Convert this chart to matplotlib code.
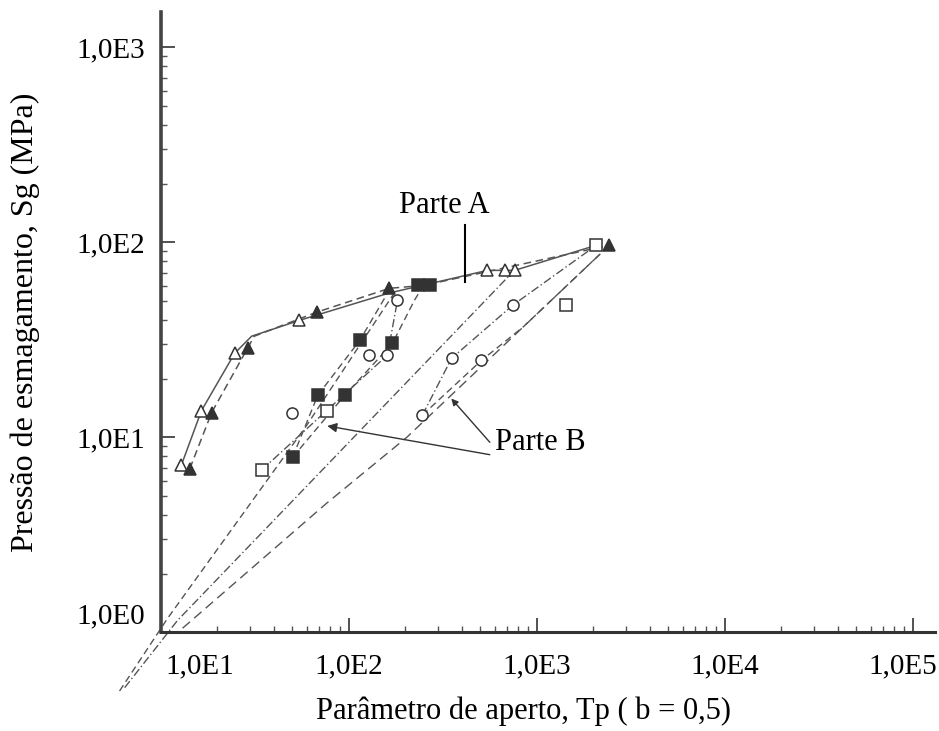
import matplotlib
matplotlib.use('Agg')
import matplotlib.pyplot as plt
import matplotlib.transforms as mtransforms
from matplotlib.ticker import LogLocator, NullFormatter

plt.rcParams['font.family'] = ['Liberation Serif', 'DejaVu Serif']

# ---- Parte A (upper curves) ----
tri_open_x = [12.9, 16.5, 24.8, 54.8, 548, 676, 764]
tri_open_y = [7.2, 13.7, 27.0, 39.8, 71.8, 71.8, 71.8]
tri_fill_x = [14.3, 18.7, 29.0, 67.6, 165, 2440]
tri_fill_y = [6.9, 13.4, 28.6, 43.8, 58.1, 96.6]
sq_fill_a_x = [233, 270]
sq_fill_a_y = [60.1, 60.1]

line_a1_x = [12.9, 16.5, 24.8, 30.5, 54.8, 165, 548, 764, 2080]
line_a1_y = [7.2, 13.7, 27.0, 33.0, 39.8, 55.0, 71.8, 71.8, 96.6]
line_a2_x = [14.3, 18.7, 29.0, 31.5, 67.6, 165, 250, 2440]
line_a2_y = [6.9, 13.4, 28.6, 33.0, 43.8, 58.1, 60.1, 96.6]

# ---- Parte B ----
sq_open_x = [34.5, 76.4, 1426, 2080]
sq_open_y = [6.8, 13.7, 47.5, 96.6]
sq_fill_x = [50.4, 68.5, 95.3, 114.7, 171]
sq_fill_y = [7.9, 16.4, 16.4, 31.4, 30.3]
circ_x = [49.8, 129, 161, 182, 247, 353, 509, 745]
circ_y = [13.4, 26.4, 26.4, 50.4, 13.0, 25.4, 24.8, 47.5]

line_b1_x = [34.5, 76.4, 161, 182]
line_b1_y = [6.8, 13.7, 26.4, 50.4]
line_b2_x = [50.4, 68.5, 114.7, 165]
line_b2_y = [7.9, 16.4, 31.4, 57.0]
line_b3_x = [50.4, 95.3, 171, 224, 250]
line_b3_y = [7.9, 16.4, 30.3, 50.4, 60.0]
line_b4_x = [247, 353, 745, 2080]
line_b4_y = [13.0, 25.4, 47.5, 96.6]
line_b5_x = [247, 509, 843, 2440]
line_b5_y = [13.0, 24.8, 36.6, 96.6]

# straight fits running to the origin
fit1_x = [6.05, 10.9, 59.8, 176]
fit1_y = [0.50, 1.18, 11.5, 55.4]
fit2_x = [6.44, 12.3, 718]
fit2_y = [0.52, 1.15, 67.7]
fit3_x = [13.1, 76.4, 204, 2440]
fit3_y = [1.05, 4.59, 10.0, 96.6]

xticks = [1e1, 1e2, 1e3, 1e4, 1e5]
xlabels = ['1,0E1', '1,0E2', '1,0E3', '1,0E4', '1,0E5']
yticks = [1e0, 1e1, 1e2, 1e3]
ylabels = ['1,0E0', '1,0E1', '1,0E2', '1,0E3']

fig = plt.figure(figsize=(9.39, 7.31), dpi=100)
ax = fig.add_axes([0.171, 0.135, 0.825, 0.848])
ax.set_xscale('log')
ax.set_yscale('log')
ax.set_xlim(10, 1.32e5)
ax.set_ylim(1, 1510)

lc = '#555555'
dash = (0, (5, 3))
dashdot = (0, (6, 2, 1, 2))

ax.plot(line_a1_x, line_a1_y, color=lc, lw=1.1, ls='-')
ax.plot(line_a2_x, line_a2_y, color=lc, lw=1.1, ls=dash)
ax.plot(line_b1_x, line_b1_y, color=lc, lw=1.0, ls=dashdot)
ax.plot(line_b2_x, line_b2_y, color=lc, lw=1.0, ls=dash)
ax.plot(line_b3_x, line_b3_y, color=lc, lw=1.0, ls=dash)
ax.plot(line_b4_x, line_b4_y, color=lc, lw=1.0, ls=dashdot)
ax.plot(line_b5_x, line_b5_y, color=lc, lw=1.0, ls=dash)
ax.plot(fit1_x, fit1_y, color=lc, lw=1.0, ls=dash, clip_on=False)
ax.plot(fit2_x, fit2_y, color=lc, lw=1.0, ls=dashdot, clip_on=False)
ax.plot(fit3_x, fit3_y, color=lc, lw=1.0, ls=(0, (7, 4)), clip_on=False)

mk = dict(ls='none', ms=8, mec='#333333', mew=1.1)
ax.plot(tri_open_x, tri_open_y, marker='^', mfc='white', **mk)
ax.plot(tri_fill_x, tri_fill_y, marker='^', mfc='#333333', **mk)
ax.plot(sq_fill_a_x, sq_fill_a_y, marker='s', mfc='#333333', **mk)
ax.plot(sq_open_x, sq_open_y, marker='s', mfc='white', **mk)
ax.plot(sq_fill_x, sq_fill_y, marker='s', mfc='#333333', **mk)
ax.plot(circ_x, circ_y, marker='o', mfc='white', **mk)

# annotations
ax.text(324, 155, 'Parte A', fontsize=22, ha='center', va='center')
ax.plot([414, 414], [122, 62.5], color='black', lw=1.5)
ax.text(1050, 9.4, 'Parte B', fontsize=22, ha='center', va='center')
ax.annotate('', xy=(344, 16.2), xytext=(577, 9.2),
            arrowprops=dict(arrowstyle='-|>', color='#333333', lw=1.0,
                            mutation_scale=10))
ax.annotate('', xy=(74.5, 11.5), xytext=(583, 8.1),
            arrowprops=dict(arrowstyle='-|>', color='#333333', lw=1.0,
                            mutation_scale=14))

# axes styling
for s in ['top', 'right']:
    ax.spines[s].set_visible(False)
ax.spines['left'].set_linewidth(2.6)
ax.spines['left'].set_color('#444444')
ax.spines['bottom'].set_linewidth(2.2)
ax.spines['bottom'].set_color('#333333')

ax.set_xticks(xticks)
ax.set_xticklabels(xlabels)
ax.set_yticks(yticks)
ax.set_yticklabels(ylabels)
ax.xaxis.set_minor_locator(LogLocator(base=10, subs=range(2, 10), numticks=20))
ax.yaxis.set_minor_locator(LogLocator(base=10, subs=range(2, 10), numticks=20))
ax.xaxis.set_minor_formatter(NullFormatter())
ax.yaxis.set_minor_formatter(NullFormatter())
ax.tick_params(which='major', direction='in', length=10, width=1.2,
               labelsize=21, color='#333333')
ax.tick_params(which='minor', direction='in', length=4.5, width=1.0,
               color='#555555')
ax.tick_params(axis='x', which='major', pad=15)
ax.tick_params(axis='y', which='major', pad=11)

# shift the corner labels like in the original
def shift(label, dx, dy):
    label.set_transform(label.get_transform() +
                        mtransforms.ScaledTranslation(dx, dy, fig.dpi_scale_trans))

shift(ax.get_xticklabels()[0], 0.39, 0)
shift(ax.get_xticklabels()[-1], -0.10, 0)
shift(ax.get_yticklabels()[0], 0, 0.19)

ax.set_xlabel('Parâmetro de aperto, Tp ( b = 0,5)', fontsize=22)
ax.xaxis.set_label_coords(0.468, -0.103)
ax.set_ylabel('Pressão de esmagamento, Sg (MPa)', fontsize=23, labelpad=26)

fig.savefig('out.png', dpi=100)
